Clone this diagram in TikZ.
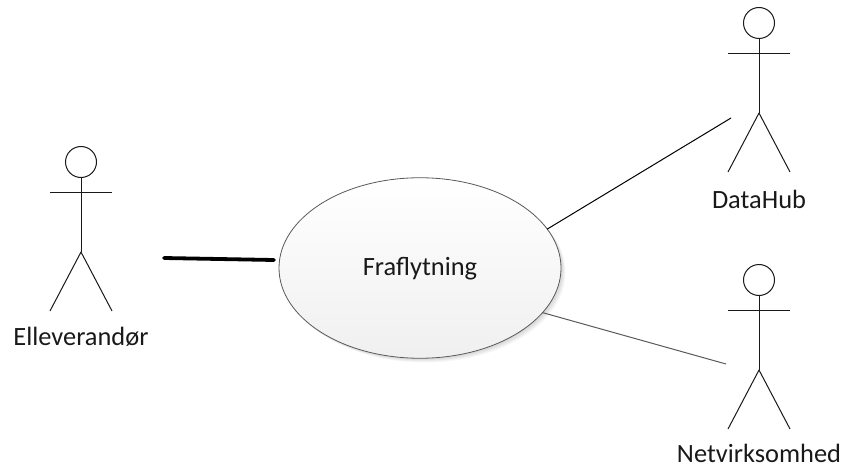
\documentclass[tikz,border=0pt]{standalone}
\usepackage{fontspec}
\setmainfont{Carlito}
\usetikzlibrary{shapes.geometric}
\tikzset{
  x=1pt,y=-1pt,
  limb/.style={draw=black!90,line width=1pt},
  head/.style={circle,draw=black!90,line width=1pt,fill=white,minimum size=31pt,inner sep=0pt,outer sep=0pt},
  lbl/.style={font=\fontsize{26.4}{30}\selectfont,text=black!90,inner sep=0pt,anchor=center},
  usecase/.style={ellipse,draw=black!65,line width=0.8pt,top color=white,bottom color=black!6,minimum width=282pt,minimum height=180.5pt,inner sep=0pt,outer sep=0pt},
  actor/.pic={
    \node[head] (-head) at (0,-1) {};
    \coordinate (-arml) at (-31,29.5);
    \coordinate (-armr) at (31,29.5);
    \coordinate (-hip) at (0,89);
    \coordinate (-legl) at (-31,148);
    \coordinate (-legr) at (31,148);
    \draw[limb] (-head.south) -- (-hip);
    \draw[limb] (-arml) -- (-armr);
    \draw[limb,line join=round] (-legl) -- (-hip) -- (-legr);
  }
}
\begin{document}
\begin{tikzpicture}
\useasboundingbox (0,0) rectangle (842,465);
\foreach \d/\o in {4.5/0.03,3.5/0.04,2.5/0.04,1.5/0.04}
  \fill[black,opacity=\o] (420+\d,268+\d) ellipse [x radius=141,y radius=90];
\node[usecase] (uc) at (420,268) {};
\node[lbl] (uctext) at (420,269) {Fraflytning};

\pic (el) at (81,163) {actor};
\pic (dh) at (759,24) {actor};
\pic (nv) at (759,281) {actor};

\node[lbl] (ellabel) at (81,337) {Elleverandør};
\node[lbl] (dhlabel) at (759,199) {DataHub};
\node[lbl] (nvlabel) at (759,453) {Netvirksomhed};

\coordinate (c1) at (164,258);
\coordinate (c1e) at (274,260);
\coordinate (c2) at (731,118);
\coordinate (c3) at (726,364);
\draw[black,line width=3.8pt,line cap=round] (c1) -- (c1e);
\draw[black,line width=1pt] (uc.17) -- (c2);
\draw[black!65,line width=1pt] (uc.-20) -- (c3);
\end{tikzpicture}
\end{document}
